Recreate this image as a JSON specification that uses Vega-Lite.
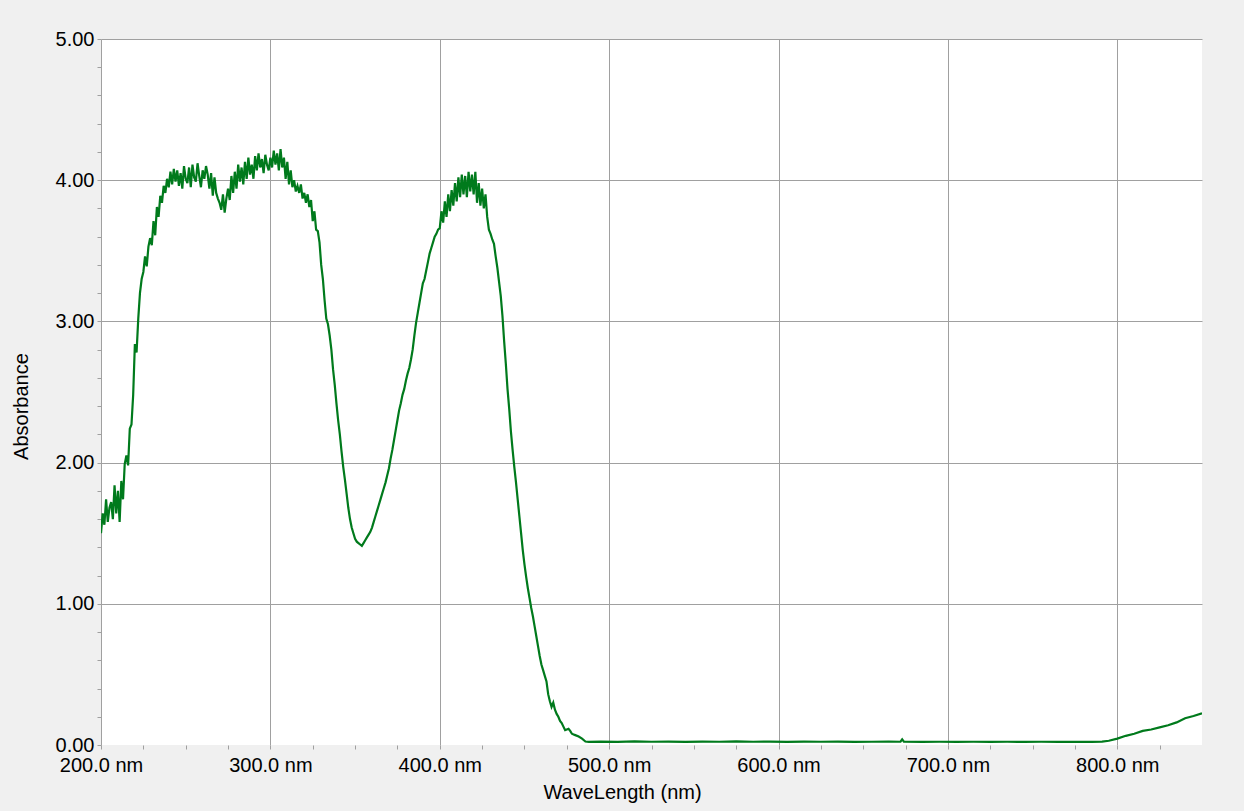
{
  "$schema": "https://vega.github.io/schema/vega-lite/v6.json",
  "width": 1101,
  "height": 706,
  "autosize": {"type": "none"},
  "padding": {"left": 101, "top": 39, "right": 42, "bottom": 66},
  "background": "#f0f0f0",
  "config": {
    "font": "Liberation Sans",
    "view": {"fill": "white", "stroke": null}
  },
  "data": {
    "values": [
      {"nm": 200, "abs": 1.50}, {"nm": 201, "abs": 1.64}, {"nm": 202, "abs": 1.56}, {"nm": 203, "abs": 1.74},
      {"nm": 204, "abs": 1.58}, {"nm": 205, "abs": 1.68}, {"nm": 206, "abs": 1.72}, {"nm": 207, "abs": 1.60},
      {"nm": 208, "abs": 1.84}, {"nm": 209, "abs": 1.64}, {"nm": 210, "abs": 1.80}, {"nm": 211, "abs": 1.58},
      {"nm": 212, "abs": 1.87}, {"nm": 213, "abs": 1.74}, {"nm": 214, "abs": 1.99}, {"nm": 215, "abs": 2.05},
      {"nm": 216, "abs": 1.98}, {"nm": 217, "abs": 2.24}, {"nm": 218, "abs": 2.27}, {"nm": 219, "abs": 2.48},
      {"nm": 220, "abs": 2.84}, {"nm": 221, "abs": 2.78}, {"nm": 222, "abs": 3.02}, {"nm": 223, "abs": 3.20},
      {"nm": 224, "abs": 3.30}, {"nm": 225, "abs": 3.35}, {"nm": 226, "abs": 3.46}, {"nm": 227, "abs": 3.39},
      {"nm": 228, "abs": 3.53}, {"nm": 229, "abs": 3.59}, {"nm": 230, "abs": 3.54}, {"nm": 231, "abs": 3.71},
      {"nm": 232, "abs": 3.61}, {"nm": 233, "abs": 3.81}, {"nm": 234, "abs": 3.74}, {"nm": 235, "abs": 3.89},
      {"nm": 236, "abs": 3.84}, {"nm": 237, "abs": 3.96}, {"nm": 238, "abs": 3.91}, {"nm": 239, "abs": 4.01},
      {"nm": 240, "abs": 3.95}, {"nm": 241, "abs": 4.06}, {"nm": 242, "abs": 3.97}, {"nm": 243, "abs": 4.08},
      {"nm": 244, "abs": 3.99}, {"nm": 245, "abs": 4.07}, {"nm": 246, "abs": 3.96}, {"nm": 247, "abs": 4.05},
      {"nm": 248, "abs": 3.94}, {"nm": 249, "abs": 4.10}, {"nm": 250, "abs": 4.01}, {"nm": 251, "abs": 3.98},
      {"nm": 252, "abs": 4.09}, {"nm": 253, "abs": 3.95}, {"nm": 254, "abs": 4.11}, {"nm": 255, "abs": 4.02},
      {"nm": 256, "abs": 3.99}, {"nm": 257, "abs": 4.12}, {"nm": 258, "abs": 4.03}, {"nm": 259, "abs": 3.95},
      {"nm": 260, "abs": 4.07}, {"nm": 261, "abs": 4.01}, {"nm": 262, "abs": 4.10}, {"nm": 263, "abs": 4.04},
      {"nm": 264, "abs": 3.94}, {"nm": 265, "abs": 4.05}, {"nm": 266, "abs": 3.89}, {"nm": 267, "abs": 4.02},
      {"nm": 268, "abs": 3.91}, {"nm": 269, "abs": 3.87}, {"nm": 270, "abs": 3.84}, {"nm": 271, "abs": 3.79},
      {"nm": 272, "abs": 3.90}, {"nm": 273, "abs": 3.77}, {"nm": 274, "abs": 3.87}, {"nm": 275, "abs": 3.94},
      {"nm": 276, "abs": 3.86}, {"nm": 277, "abs": 4.03}, {"nm": 278, "abs": 3.91}, {"nm": 279, "abs": 4.06},
      {"nm": 280, "abs": 3.94}, {"nm": 281, "abs": 4.11}, {"nm": 282, "abs": 3.99}, {"nm": 283, "abs": 4.09},
      {"nm": 284, "abs": 3.97}, {"nm": 285, "abs": 4.13}, {"nm": 286, "abs": 4.01}, {"nm": 287, "abs": 4.16},
      {"nm": 288, "abs": 4.04}, {"nm": 289, "abs": 4.11}, {"nm": 290, "abs": 4.01}, {"nm": 291, "abs": 4.17},
      {"nm": 292, "abs": 4.07}, {"nm": 293, "abs": 4.19}, {"nm": 294, "abs": 4.09}, {"nm": 295, "abs": 4.15},
      {"nm": 296, "abs": 4.05}, {"nm": 297, "abs": 4.18}, {"nm": 298, "abs": 4.11}, {"nm": 299, "abs": 4.07},
      {"nm": 300, "abs": 4.16}, {"nm": 301, "abs": 4.09}, {"nm": 302, "abs": 4.21}, {"nm": 303, "abs": 4.11},
      {"nm": 304, "abs": 4.19}, {"nm": 305, "abs": 4.07}, {"nm": 306, "abs": 4.22}, {"nm": 307, "abs": 4.09},
      {"nm": 308, "abs": 4.16}, {"nm": 309, "abs": 4.01}, {"nm": 310, "abs": 4.13}, {"nm": 311, "abs": 3.97},
      {"nm": 312, "abs": 4.07}, {"nm": 313, "abs": 3.95}, {"nm": 314, "abs": 4.00}, {"nm": 315, "abs": 3.92},
      {"nm": 316, "abs": 3.96}, {"nm": 317, "abs": 3.91}, {"nm": 318, "abs": 3.97}, {"nm": 319, "abs": 3.87},
      {"nm": 320, "abs": 3.91}, {"nm": 321, "abs": 3.84}, {"nm": 322, "abs": 3.90}, {"nm": 323, "abs": 3.81},
      {"nm": 324, "abs": 3.86}, {"nm": 325, "abs": 3.71}, {"nm": 326, "abs": 3.78}, {"nm": 327, "abs": 3.65},
      {"nm": 328, "abs": 3.64}, {"nm": 329, "abs": 3.56}, {"nm": 330, "abs": 3.40}, {"nm": 331, "abs": 3.30},
      {"nm": 332, "abs": 3.15}, {"nm": 333, "abs": 3.02}, {"nm": 334, "abs": 2.98}, {"nm": 335, "abs": 2.90},
      {"nm": 336, "abs": 2.80}, {"nm": 337, "abs": 2.66}, {"nm": 338, "abs": 2.55}, {"nm": 339, "abs": 2.42},
      {"nm": 340, "abs": 2.30}, {"nm": 341, "abs": 2.20}, {"nm": 342, "abs": 2.08}, {"nm": 343, "abs": 1.97},
      {"nm": 344, "abs": 1.88}, {"nm": 345, "abs": 1.78}, {"nm": 346, "abs": 1.68}, {"nm": 347, "abs": 1.60},
      {"nm": 348, "abs": 1.54}, {"nm": 349, "abs": 1.50}, {"nm": 350, "abs": 1.46}, {"nm": 351, "abs": 1.44},
      {"nm": 352, "abs": 1.43}, {"nm": 353, "abs": 1.42}, {"nm": 354, "abs": 1.41}, {"nm": 355, "abs": 1.43},
      {"nm": 356, "abs": 1.45}, {"nm": 357, "abs": 1.47}, {"nm": 358, "abs": 1.49}, {"nm": 359, "abs": 1.51},
      {"nm": 360, "abs": 1.54}, {"nm": 361, "abs": 1.58}, {"nm": 362, "abs": 1.62}, {"nm": 363, "abs": 1.66},
      {"nm": 364, "abs": 1.70}, {"nm": 365, "abs": 1.74}, {"nm": 366, "abs": 1.78}, {"nm": 367, "abs": 1.82},
      {"nm": 368, "abs": 1.86}, {"nm": 369, "abs": 1.91}, {"nm": 370, "abs": 1.96}, {"nm": 371, "abs": 2.03},
      {"nm": 372, "abs": 2.09}, {"nm": 373, "abs": 2.16}, {"nm": 374, "abs": 2.23}, {"nm": 375, "abs": 2.30},
      {"nm": 376, "abs": 2.37}, {"nm": 377, "abs": 2.42}, {"nm": 378, "abs": 2.48}, {"nm": 379, "abs": 2.52},
      {"nm": 380, "abs": 2.58}, {"nm": 381, "abs": 2.63}, {"nm": 382, "abs": 2.67}, {"nm": 383, "abs": 2.73},
      {"nm": 384, "abs": 2.80}, {"nm": 385, "abs": 2.90}, {"nm": 386, "abs": 2.99}, {"nm": 387, "abs": 3.06},
      {"nm": 388, "abs": 3.13}, {"nm": 389, "abs": 3.20}, {"nm": 390, "abs": 3.27}, {"nm": 391, "abs": 3.30},
      {"nm": 392, "abs": 3.36}, {"nm": 393, "abs": 3.42}, {"nm": 394, "abs": 3.48}, {"nm": 395, "abs": 3.52},
      {"nm": 396, "abs": 3.56}, {"nm": 397, "abs": 3.60}, {"nm": 398, "abs": 3.62}, {"nm": 399, "abs": 3.65},
      {"nm": 400, "abs": 3.66}, {"nm": 401, "abs": 3.78}, {"nm": 402, "abs": 3.70}, {"nm": 403, "abs": 3.85},
      {"nm": 404, "abs": 3.74}, {"nm": 405, "abs": 3.90}, {"nm": 406, "abs": 3.78}, {"nm": 407, "abs": 3.93},
      {"nm": 408, "abs": 3.82}, {"nm": 409, "abs": 3.98}, {"nm": 410, "abs": 3.85}, {"nm": 411, "abs": 4.02},
      {"nm": 412, "abs": 3.88}, {"nm": 413, "abs": 4.04}, {"nm": 414, "abs": 3.90}, {"nm": 415, "abs": 4.03},
      {"nm": 416, "abs": 3.88}, {"nm": 417, "abs": 4.06}, {"nm": 418, "abs": 3.92}, {"nm": 419, "abs": 4.04},
      {"nm": 420, "abs": 3.90}, {"nm": 421, "abs": 4.06}, {"nm": 422, "abs": 3.84}, {"nm": 423, "abs": 3.98},
      {"nm": 424, "abs": 3.82}, {"nm": 425, "abs": 3.94}, {"nm": 426, "abs": 3.80}, {"nm": 427, "abs": 3.90},
      {"nm": 428, "abs": 3.74}, {"nm": 429, "abs": 3.65}, {"nm": 430, "abs": 3.62}, {"nm": 431, "abs": 3.58},
      {"nm": 432, "abs": 3.55}, {"nm": 433, "abs": 3.46}, {"nm": 434, "abs": 3.38}, {"nm": 435, "abs": 3.28},
      {"nm": 436, "abs": 3.18}, {"nm": 437, "abs": 3.04}, {"nm": 438, "abs": 2.86}, {"nm": 439, "abs": 2.70},
      {"nm": 440, "abs": 2.52}, {"nm": 441, "abs": 2.38}, {"nm": 442, "abs": 2.22}, {"nm": 443, "abs": 2.09},
      {"nm": 444, "abs": 1.97}, {"nm": 445, "abs": 1.86}, {"nm": 446, "abs": 1.74}, {"nm": 447, "abs": 1.62},
      {"nm": 448, "abs": 1.50}, {"nm": 449, "abs": 1.38}, {"nm": 450, "abs": 1.28}, {"nm": 451, "abs": 1.19},
      {"nm": 452, "abs": 1.11}, {"nm": 453, "abs": 1.04}, {"nm": 454, "abs": 0.97}, {"nm": 455, "abs": 0.91},
      {"nm": 456, "abs": 0.84}, {"nm": 457, "abs": 0.77}, {"nm": 458, "abs": 0.70}, {"nm": 459, "abs": 0.63},
      {"nm": 460, "abs": 0.57}, {"nm": 461, "abs": 0.53}, {"nm": 462, "abs": 0.49}, {"nm": 463, "abs": 0.45},
      {"nm": 464, "abs": 0.36}, {"nm": 465, "abs": 0.31}, {"nm": 466, "abs": 0.27}, {"nm": 467, "abs": 0.30},
      {"nm": 468, "abs": 0.25}, {"nm": 469, "abs": 0.22}, {"nm": 470, "abs": 0.20}, {"nm": 471, "abs": 0.17},
      {"nm": 472, "abs": 0.155}, {"nm": 473, "abs": 0.13}, {"nm": 474, "abs": 0.105}, {"nm": 475, "abs": 0.11},
      {"nm": 476, "abs": 0.115}, {"nm": 477, "abs": 0.10}, {"nm": 478, "abs": 0.08}, {"nm": 479, "abs": 0.075},
      {"nm": 480, "abs": 0.07}, {"nm": 482, "abs": 0.06}, {"nm": 484, "abs": 0.045}, {"nm": 486, "abs": 0.025},
      {"nm": 488, "abs": 0.022}, {"nm": 495, "abs": 0.024}, {"nm": 505, "abs": 0.022}, {"nm": 515, "abs": 0.025},
      {"nm": 525, "abs": 0.023}, {"nm": 535, "abs": 0.024}, {"nm": 545, "abs": 0.022}, {"nm": 555, "abs": 0.024},
      {"nm": 565, "abs": 0.023}, {"nm": 575, "abs": 0.025}, {"nm": 585, "abs": 0.023}, {"nm": 595, "abs": 0.024},
      {"nm": 605, "abs": 0.022}, {"nm": 615, "abs": 0.024}, {"nm": 625, "abs": 0.023}, {"nm": 635, "abs": 0.024},
      {"nm": 645, "abs": 0.022}, {"nm": 655, "abs": 0.023}, {"nm": 665, "abs": 0.024}, {"nm": 672, "abs": 0.023},
      {"nm": 673, "abs": 0.04}, {"nm": 674, "abs": 0.024}, {"nm": 685, "abs": 0.022}, {"nm": 695, "abs": 0.023},
      {"nm": 705, "abs": 0.022}, {"nm": 715, "abs": 0.023}, {"nm": 725, "abs": 0.022}, {"nm": 735, "abs": 0.023},
      {"nm": 745, "abs": 0.022}, {"nm": 755, "abs": 0.023}, {"nm": 765, "abs": 0.022}, {"nm": 775, "abs": 0.022},
      {"nm": 785, "abs": 0.022}, {"nm": 791, "abs": 0.024}, {"nm": 795, "abs": 0.03}, {"nm": 800, "abs": 0.045},
      {"nm": 805, "abs": 0.065}, {"nm": 810, "abs": 0.08}, {"nm": 815, "abs": 0.10}, {"nm": 820, "abs": 0.11},
      {"nm": 825, "abs": 0.125}, {"nm": 830, "abs": 0.14}, {"nm": 835, "abs": 0.16}, {"nm": 840, "abs": 0.19},
      {"nm": 845, "abs": 0.205}, {"nm": 850, "abs": 0.225}
    ]
  },
  "mark": {"type": "line", "color": "#007a1c", "strokeWidth": 2.2, "clip": true},
  "encoding": {
    "x": {
      "field": "nm",
      "type": "quantitative",
      "scale": {"domain": [200, 850], "nice": false, "zero": false},
      "axis": {
        "title": "WaveLength (nm)",
        "values": [200, 225, 250, 275, 300, 325, 350, 375, 400, 425, 450, 475, 500, 525, 550, 575, 600, 625, 650, 675, 700, 725, 750, 775, 800, 825],
        "labelExpr": "datum.value % 100 === 0 ? format(datum.value, '.1f') + ' nm' : ''",
        "labelOverlap": false,
        "labelFlush": false,
        "labelBound": false,
        "labelFontSize": 20,
        "labelColor": "black",
        "labelAlign": "center",
        "labelDx": -6,
        "labelPadding": 6,
        "tickSize": 4,
        "tickColor": "#a0a0a0",
        "domain": false,
        "grid": true,
        "gridColor": "#a0a0a0",
        "gridOpacity": {"condition": {"test": "datum.value % 100 === 0", "value": 1}, "value": 0},
        "titleFontSize": 20,
        "titleFontWeight": "normal",
        "titleColor": "black",
        "titleX": 521,
        "titleY": 53,
        "titleAlign": "center",
        "titleBaseline": "alphabetic"
      }
    },
    "y": {
      "field": "abs",
      "type": "quantitative",
      "scale": {"domain": [0, 5], "nice": false},
      "axis": {
        "title": "Absorbance",
        "values": [0, 0.2, 0.4, 0.6, 0.8, 1, 1.2, 1.4, 1.6, 1.8, 2, 2.2, 2.4, 2.6, 2.8, 3, 3.2, 3.4, 3.6, 3.8, 4, 4.2, 4.4, 4.6, 4.8, 5],
        "labelExpr": "abs(datum.value - round(datum.value)) < 0.001 ? format(datum.value, '.2f') : ''",
        "labelOverlap": false,
        "labelFlush": false,
        "labelBound": false,
        "labelFontSize": 20,
        "labelColor": "black",
        "labelPadding": 3,
        "tickSize": 4,
        "tickColor": "#a0a0a0",
        "domain": false,
        "grid": true,
        "gridColor": "#a0a0a0",
        "gridOpacity": {"condition": {"test": "abs(datum.value - round(datum.value)) < 0.001 && datum.value > 0", "value": 1}, "value": 0},
        "titleFontSize": 20,
        "titleFontWeight": "normal",
        "titleColor": "black",
        "titleAngle": -90,
        "titleX": -74,
        "titleY": 367,
        "titleAlign": "center",
        "titleBaseline": "alphabetic"
      }
    }
  }
}
